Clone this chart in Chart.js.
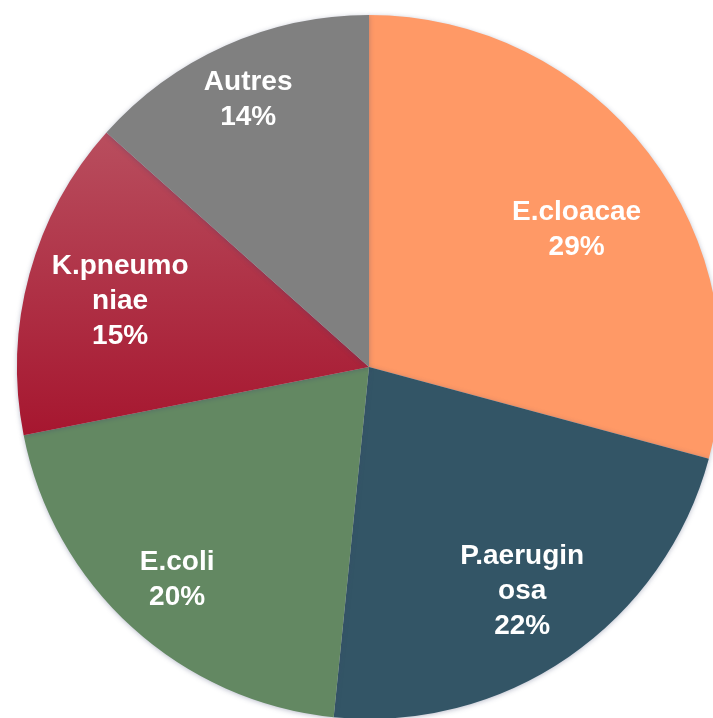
<!DOCTYPE html>
<html>
<head>
<meta charset="utf-8">
<script src="https://cdn.jsdelivr.net/npm/chart.js@4/dist/chart.umd.min.js"></script>
<style>
  html, body { margin: 0; padding: 0; background: #ffffff; overflow: hidden; width: 713px; height: 718px; }
  #wrap { position: absolute; left: 0; top: 0; width: 738px; height: 734px; }
</style>
</head>
<body>
<div id="wrap"><canvas id="c" width="738" height="734"></canvas></div>
<script>
// Data
const categories = ["E.cloacae", "P.aeruginosa", "E.coli", "K.pneumoniae", "Autres"];
const labelLines = [["E.cloacae"], ["P.aerugin", "osa"], ["E.coli"], ["K.pneumo", "niae"], ["Autres"]];
const values = [29.2, 22.4, 20.3, 14.7, 13.4];
const percentLabels = ["29%", "22%", "20%", "15%", "14%"];

// Styles
const colors = ["#FF9966", "#335566", "#638862", null, "#808080"];
const labelRadial = [0.71, 0.767, 0.81, 0.733, 0.84];
const labelAngleShift = [3.6, 0, 0, 0, 0];

function redGradient(ctx) {
  const chart = ctx.chart;
  const area = chart.chartArea;
  if (!area) return "#AE2038";
  const c = chart.ctx;
  const cy = (area.top + area.bottom) / 2;
  const r = Math.min(area.right - area.left, area.bottom - area.top) / 2;
  const g = c.createLinearGradient(0, cy - r * 0.68, 0, cy + r * 0.2);
  g.addColorStop(0, "#B94F5F");
  g.addColorStop(1, "#A6162F");
  return g;
}

const labelPlugin = {
  id: "sliceLabels",
  afterDatasetsDraw(chart) {
    const ctx = chart.ctx;
    const meta = chart.getDatasetMeta(0);
    ctx.save();
    ctx.fillStyle = "#ffffff";
    ctx.font = "bold 28px 'Liberation Sans', Arial, sans-serif";
    ctx.textAlign = "center";
    ctx.textBaseline = "alphabetic";
    const L = 35, capH = 20;
    meta.data.forEach((arc, i) => {
      const p = arc.getProps(["x", "y", "startAngle", "endAngle", "outerRadius"], true);
      const mid = (p.startAngle + p.endAngle) / 2 + labelAngleShift[i] * Math.PI / 180;
      const d = p.outerRadius * labelRadial[i];
      const cx = p.x + Math.cos(mid) * d;
      const cy = p.y + Math.sin(mid) * d;
      const lines = labelLines[i].concat([percentLabels[i]]);
      const n = lines.length;
      const first = cy - ((n - 1) * L + capH) / 2 + capH;
      lines.forEach((t, k) => ctx.fillText(t, cx, first + k * L));
    });
    ctx.restore();
  }
};

const shadowPlugin = {
  id: "pieShadow",
  beforeDatasetsDraw(chart) {
    const ctx = chart.ctx;
    ctx.save();
    ctx.shadowColor = "rgba(60,70,110,0.35)";
    ctx.shadowBlur = 5;
    ctx.shadowOffsetX = 0;
    ctx.shadowOffsetY = 1;
  },
  afterDatasetsDraw(chart) {
    chart.ctx.restore();
  }
};

new Chart(document.getElementById("c"), {
  type: "pie",
  data: {
    labels: categories,
    datasets: [{
      data: values,
      backgroundColor: (ctx) => ctx.dataIndex === 3 ? redGradient(ctx) : colors[ctx.dataIndex],
      borderWidth: 0,
      hoverOffset: 0
    }]
  },
  options: {
    responsive: false,
    animation: false,
    layout: { padding: 15 },
    plugins: {
      legend: { display: false },
      tooltip: { enabled: false }
    }
  },
  plugins: [shadowPlugin, labelPlugin]
});
</script>
</body>
</html>
